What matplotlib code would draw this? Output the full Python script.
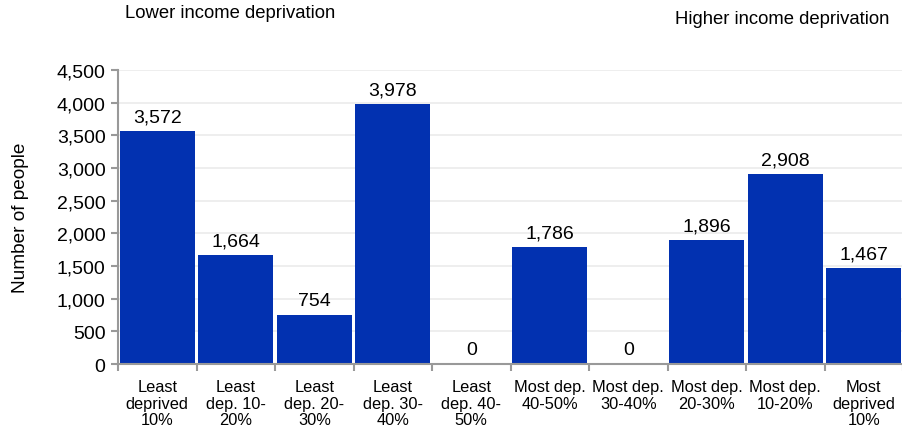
import numpy as np
import matplotlib.pyplot as plt

plt.rcParams['font.family'] = ['Liberation Sans', 'DejaVu Sans']

categories = ['Least\ndeprived\n10%', 'Least\ndep. 10-\n20%', 'Least\ndep. 20-\n30%',
              'Least\ndep. 30-\n40%', 'Least\ndep. 40-\n50%', 'Most dep.\n40-50%',
              'Most dep.\n30-40%', 'Most dep.\n20-30%', 'Most dep.\n10-20%',
              'Most\ndeprived\n10%']
people = [3572, 1664, 754, 3978, 0, 1786, 0, 1896, 2908, 1467]
yticks = [0, 500, 1000, 1500, 2000, 2500, 3000, 3500, 4000, 4500]

fig = plt.figure(figsize=(9.03, 4.31), dpi=100)
ax = fig.add_axes([0.1307, 0.1531, 0.8693, 0.6822])

x = np.arange(len(categories))
ax.bar(x, people, width=0.96, color='#0231b0', zorder=2)
for xi, v in zip(x, people):
    ax.text(xi, v + 85, f'{v:,}', ha='center', va='bottom', fontsize=14)

ax.set_xlim(-0.5, len(categories) - 0.5)
ax.set_ylim(0, 4500)
ax.set_yticks(yticks)
ax.set_yticklabels([f'{t:,}' for t in yticks], fontsize=14)
ax.set_xticks(x)
ax.set_xticklabels(categories, fontsize=11.8, linespacing=1.12)
ax.set_xticks(np.arange(len(categories) + 1) - 0.5, minor=True)
ax.tick_params(axis='x', which='major', length=0, pad=11)
ax.tick_params(axis='x', which='minor', length=5, color='#999999', width=1.5)
ax.tick_params(axis='y', length=5, color='#999999', width=1.5, pad=4)
ax.grid(axis='y', color='#ebebeb', linewidth=1.2, zorder=0)
ax.set_axisbelow(True)
for s in ['top', 'right']:
    ax.spines[s].set_visible(False)
for s in ['left', 'bottom']:
    ax.spines[s].set_color('#999999')
    ax.spines[s].set_linewidth(1.5)

ax.set_ylabel('Number of people', fontsize=13.7, labelpad=20)
fig.text(125 / 903, 1 - 14 / 431, 'Lower income deprivation', fontsize=13.3,
         ha='left', va='center')
fig.text(889 / 903, 1 - 19 / 431, 'Higher income deprivation', fontsize=13.3,
         ha='right', va='center')

fig.savefig('out.png', dpi=100)
